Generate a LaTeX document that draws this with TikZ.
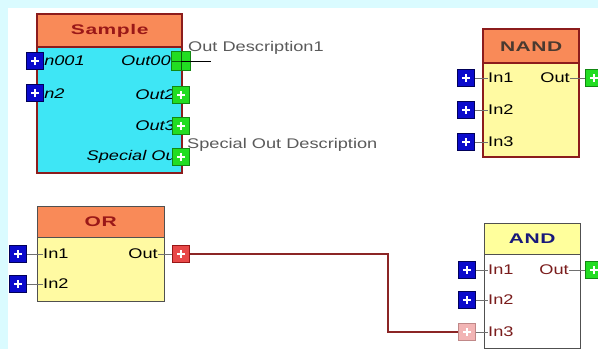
\documentclass[tikz,border=0pt]{standalone}
\usepackage{fontspec}
\setmainfont{Liberation Sans}
\newfontfamily\lblfont[FakeStretch=1.3]{Liberation Sans}
\newfontfamily\ttlfont[FakeStretch=1.5,LetterSpace=4]{Liberation Sans}
\definecolor{bgcyan}{HTML}{DAFBFF}
\definecolor{salmon}{HTML}{F98A58}
\definecolor{cyanbody}{HTML}{3EE6F5}
\definecolor{yellowbody}{HTML}{FFFAA2}
\definecolor{andyellow}{HTML}{FFFF9C}
\definecolor{bordred}{HTML}{8C1C1C}
\definecolor{bordgray}{HTML}{505050}
\definecolor{pblue}{HTML}{0A0ACC}
\definecolor{pblueD}{HTML}{00005A}
\definecolor{pgreen}{HTML}{22DD22}
\definecolor{pgreenD}{HTML}{128812}
\definecolor{pred}{HTML}{E84848}
\definecolor{predD}{HTML}{991515}
\definecolor{ppink}{HTML}{F2B4B4}
\definecolor{ppinkD}{HTML}{C08888}
\definecolor{connred}{HTML}{8B2525}
\definecolor{stubgray}{HTML}{707070}
\definecolor{descgray}{HTML}{5A5A5A}
\definecolor{ttlred}{HTML}{9A1818}
\definecolor{ttlbrown}{HTML}{4A3A30}
\definecolor{ttlblue}{HTML}{18187A}
\definecolor{lblred}{HTML}{7A1C1C}
\begin{document}
\begin{tikzpicture}[x=1pt,y=-1pt,
  lbl/.style={font=\lblfont\fontsize{14}{16}\selectfont, inner sep=0pt},
  slbl/.style={font=\lblfont\itshape\fontsize{14}{16}\selectfont, inner sep=0pt},
  ttl/.style={font=\ttlfont\bfseries\fontsize{14}{16}\selectfont, inner sep=0pt},
  blk/.style={anchor=north west, inner sep=0pt},
  pbase/.style={minimum size=17pt, inner sep=0pt, line width=0.7pt,
    path picture={\draw[white,line width=1.5pt]
      ([xshift=-4pt]path picture bounding box.center) -- ([xshift=4pt]path picture bounding box.center)
      ([yshift=-4pt]path picture bounding box.center) -- ([yshift=4pt]path picture bounding box.center);}},
  bport/.style={pbase, fill=pblue, draw=pblueD},
  gport/.style={pbase, fill=pgreen, draw=pgreenD},
  rport/.style={pbase, fill=pred, draw=predD},
  pport/.style={pbase, fill=ppink, draw=ppinkD},
  stub/.style={draw=stubgray, line width=0.8pt},
  conn/.style={draw=connred, line width=1.3pt},
  desc/.style={font=\lblfont\fontsize{14}{16}\selectfont, text=descgray, inner sep=0pt, anchor=west},
]
\fill[bgcyan] (0,0) rectangle (598,349);
\fill[white] (8,8) rectangle (598,349);
\useasboundingbox (0,0) rectangle (598,349);

% ---------- Sample ----------
\node[blk, minimum width=145pt, minimum height=159pt, fill=cyanbody, draw=bordred, line width=2.4pt] (sample) at (36,13) {};
\node[blk, ttl, minimum width=145pt, minimum height=33pt, fill=salmon, draw=bordred, line width=2.4pt, text=ttlred] (sampleH) at (36,13) {Sample};
\node[slbl, anchor=west] (sIn1L) at (39,61) {In001};
\node[slbl, anchor=west] (sIn2L) at (39,94) {In2};
\node[slbl, anchor=east] (sOut1L) at (181,61) {Out001};
\node[slbl, anchor=east] (sOut2L) at (175,95) {Out2};
\node[slbl, anchor=east] (sOut3L) at (175,126) {Out3};
\node[slbl, anchor=east] (sOut4L) at (181,157) {Special Out};
\node[bport] (sIn1) at (35,61) {};
\node[bport] (sIn2) at (35,93) {};
\node[minimum size=19pt, inner sep=0pt, fill=pgreen, draw=pgreenD, line width=0.7pt,
  path picture={\draw[pgreenD!70!black, line width=0.9pt]
    (path picture bounding box.north) -- (path picture bounding box.south)
    (path picture bounding box.west) -- (path picture bounding box.east);}] (sOut1) at (181,61) {};
\node[gport] (sOut2) at (181,95) {};
\node[gport] (sOut3) at (181,126) {};
\node[gport] (sOut4) at (181,157) {};
\coordinate (d1end) at (211,61);
\draw[black, line width=0.8pt] (sOut1.center) -- (d1end);
\node[desc] (d1) at (188,48) {Out Description1};
\node[desc] (d2) at (187,145) {Special Out Description};

% ---------- NAND ----------
\node[blk, minimum width=96pt, minimum height=128pt, fill=yellowbody, draw=bordred, line width=2.4pt] (nand) at (482,28) {};
\node[blk, ttl, minimum width=96pt, minimum height=34pt, fill=salmon, draw=bordred, line width=2.4pt, text=ttlbrown] (nandH) at (482,28) {NAND};
\node[lbl, anchor=west] (nIn1L) at (488,78) {In1};
\node[lbl, anchor=west] (nIn2L) at (488,110) {In2};
\node[lbl, anchor=west] (nIn3L) at (488,142) {In3};
\node[lbl, anchor=east] (nOutL) at (570,78) {Out};
\node[bport] (nIn1) at (466,78) {};
\node[bport] (nIn2) at (466,110) {};
\node[bport] (nIn3) at (466,142) {};
\node[gport] (nOut) at (594,78) {};
\draw[stub] (nIn1.east) -- (nIn1L.west);
\draw[stub] (nIn2.east) -- (nIn2L.west);
\draw[stub] (nIn3.east) -- (nIn3L.west);
\draw[stub] (nOutL.east) -- (nOut.west);

% ---------- OR ----------
\node[blk, minimum width=127pt, minimum height=95pt, fill=yellowbody, draw=bordgray, line width=1.3pt] (or) at (36.6,205.6) {};
\node[blk, ttl, minimum width=127pt, minimum height=31pt, fill=salmon, draw=bordgray, line width=1.3pt, text=ttlred] (orH) at (36.6,205.6) {OR};
\node[lbl, anchor=west] (oIn1L) at (43,254) {In1};
\node[lbl, anchor=west] (oIn2L) at (43,284) {In2};
\node[lbl, anchor=east] (oOutL) at (158,254) {Out};
\node[bport] (oIn1) at (18,254) {};
\node[bport] (oIn2) at (18,284) {};
\node[rport] (oOut) at (181,254) {};
\draw[stub] (oIn1.east) -- (oIn1L.west);
\draw[stub] (oIn2.east) -- (oIn2L.west);
\draw[stub] (oOutL.east) -- (oOut.west);

% ---------- AND ----------
\node[blk, minimum width=96pt, minimum height=125pt, fill=white, draw=bordgray, line width=1.3pt] (and) at (483.6,222.6) {};
\node[blk, ttl, minimum width=96pt, minimum height=31pt, fill=andyellow, draw=bordgray, line width=1.3pt, text=ttlblue] (andH) at (483.6,222.6) {AND};
\node[lbl, anchor=west, text=lblred] (aIn1L) at (488,270) {In1};
\node[lbl, anchor=west, text=lblred] (aIn2L) at (488,300) {In2};
\node[lbl, anchor=west, text=lblred] (aIn3L) at (488,332) {In3};
\node[lbl, anchor=east, text=lblred] (aOutL) at (569,270) {Out};
\node[bport] (aIn1) at (467,270) {};
\node[bport] (aIn2) at (467,300) {};
\node[pport] (aIn3) at (467,332) {};
\node[gport] (aOut) at (594,270) {};
\draw[stub] (aIn1.east) -- (aIn1L.west);
\draw[stub] (aIn2.east) -- (aIn2L.west);
\draw[stub] (aIn3.east) -- (aIn3L.west);
\draw[stub] (aOutL.east) -- (aOut.west);

% ---------- connection ----------
\draw[conn] (oOut.east) -- (388,254) |- (aIn3.west);
\end{tikzpicture}
\end{document}
